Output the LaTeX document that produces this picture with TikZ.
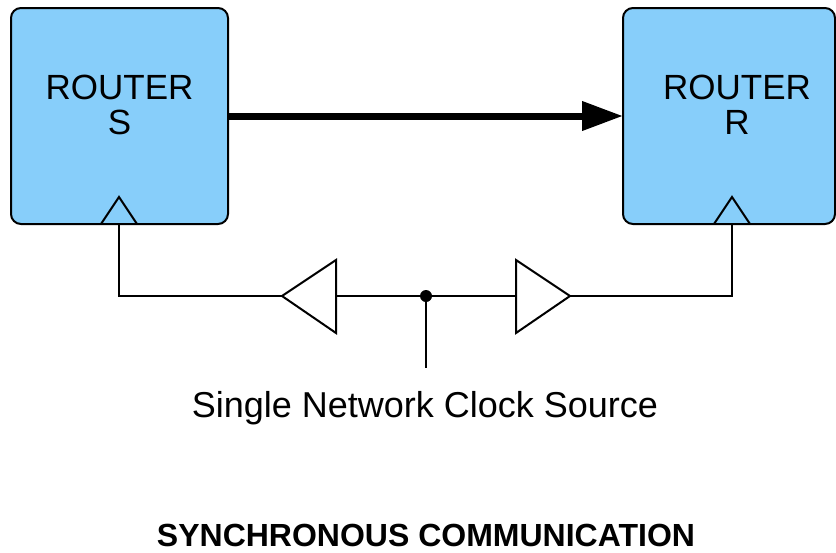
\documentclass[tikz,border=0pt]{standalone}
\usepackage{fontspec}
\setmainfont{Liberation Sans}
\usetikzlibrary{arrows.meta}
\definecolor{routerblue}{RGB}{135,206,250}
\tikzset{
  router/.style={draw=black, line width=2pt, fill=routerblue, rounded corners=10pt},
  wire/.style={draw=black, line width=2pt, line join=miter},
  lbl/.style={anchor=base, inner sep=0pt, font=\fontsize{35}{35}\selectfont},
  ttl/.style={anchor=base, inner sep=0pt, font=\fontsize{32}{32}\selectfont\bfseries},
  bigarrow/.style={draw=black, line width=7pt, -{Triangle[length=41pt,width=28pt]}}
}
\begin{document}
\begin{tikzpicture}[x=1pt,y=-1pt]
\useasboundingbox (0,0) rectangle (836,552);
% router boxes
\draw[router] (11,8) rectangle (228,224);
\draw[router] (623,8) rectangle (835,224);
\coordinate (sE) at (228,116);
\coordinate (rW) at (623,116);
\node[lbl] (sT1) at (119.5,99) {ROUTER};
\node[lbl] (sT2) at (119.5,134) {S};
\node[lbl] (rT1) at (737,99) {ROUTER};
\node[lbl] (rT2) at (737,134) {R};
% data arrow
\draw[bigarrow] (sE) -- (rW);
% clock inputs
\coordinate (sClk) at (119,224);
\coordinate (rClk) at (732,224);
\draw[wire] (101,224) -- (119,197) -- (137,224);
\draw[wire] (714,224) -- (732,197) -- (750,224);
% buffers
\coordinate (lTip) at (282,296);
\coordinate (lBase) at (336,296);
\coordinate (rBase) at (516,296);
\coordinate (rTip) at (570,296);
\draw[wire] (lTip) -- (336,260) -- (336,333) -- cycle;
\draw[wire] (rTip) -- (516,260) -- (516,333) -- cycle;
% wiring
\coordinate (src) at (426,296);
\coordinate (srcEnd) at (426,368);
\draw[wire] (sClk) |- (lTip);
\draw[wire] (lBase) -- (rBase);
\draw[wire] (rTip) -| (rClk);
\draw[wire] (src) -- (srcEnd);
\fill (src) circle (6pt);
% labels
\node[lbl, font=\fontsize{36}{36}\selectfont] (srcLbl) at (425,417) {Single Network Clock Source};
\node[ttl] (title) at (426,546) {SYNCHRONOUS COMMUNICATION};
\end{tikzpicture}
\end{document}
